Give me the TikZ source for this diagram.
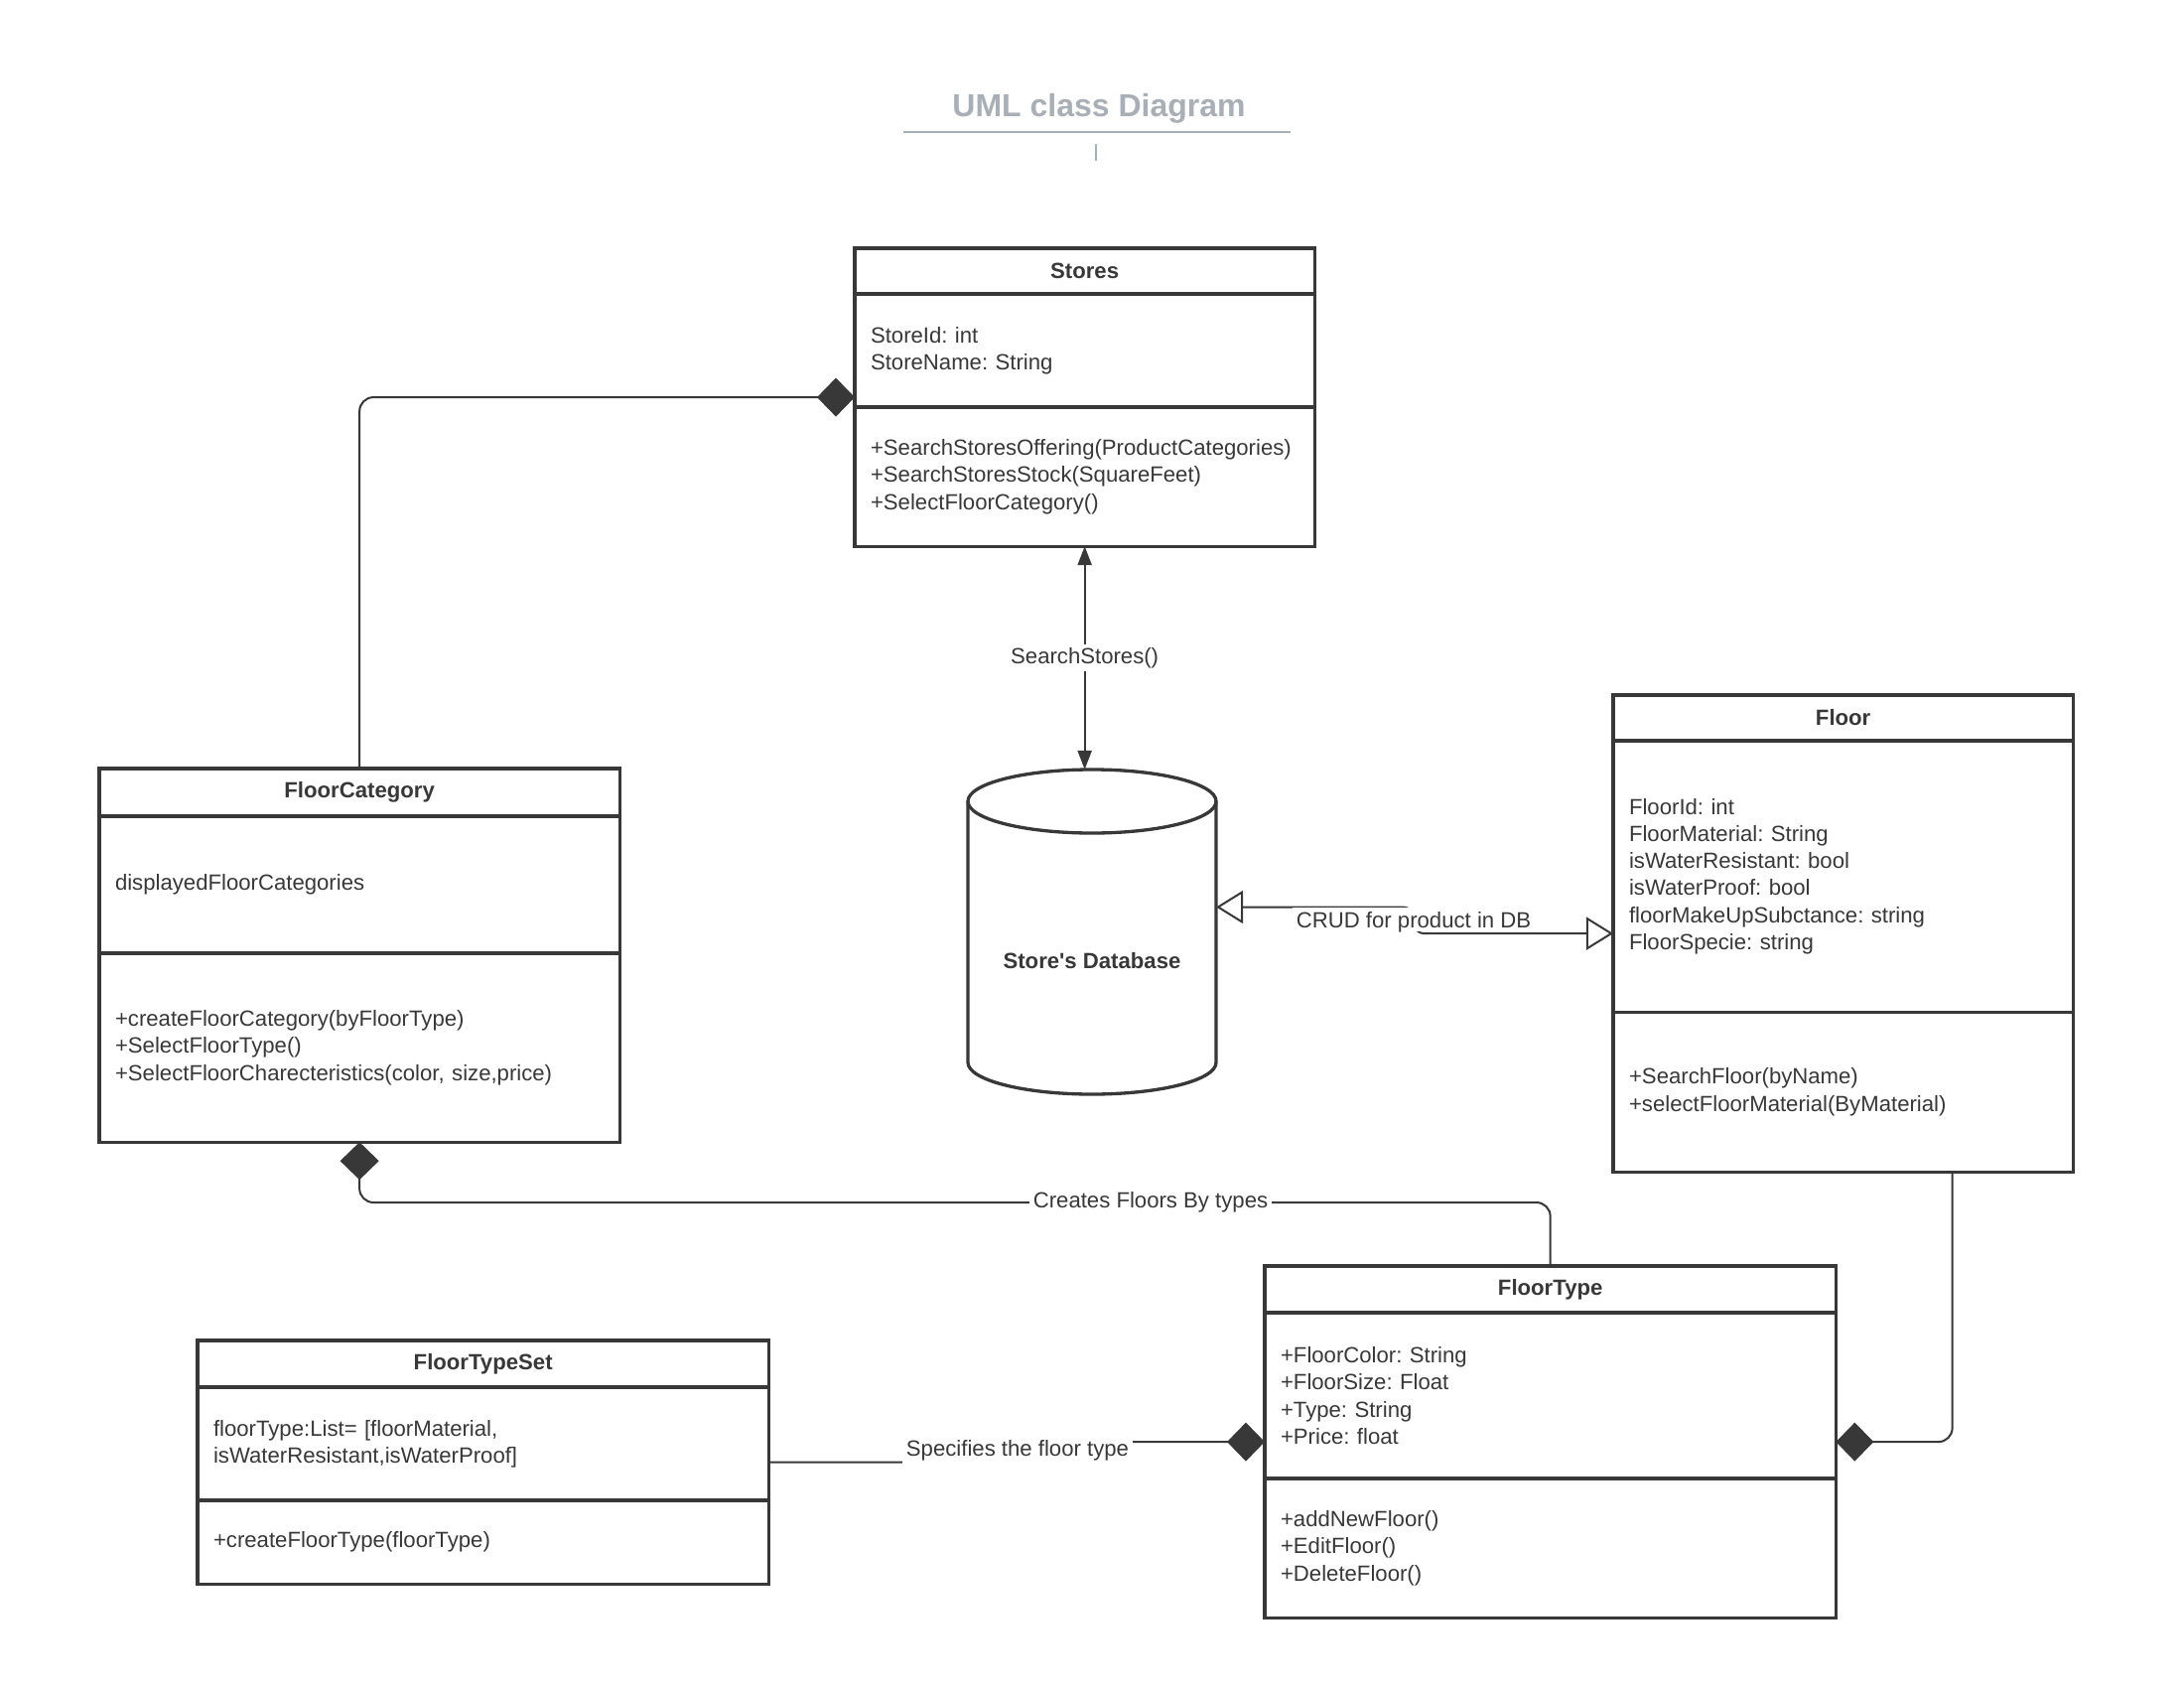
\documentclass[tikz,border=0pt]{standalone}
\usepackage{fontspec}
\newfontfamily\lsans{Liberation Sans}
\usetikzlibrary{arrows.meta,calc,fit}
\definecolor{ink}{HTML}{383838}
\definecolor{titlegray}{HTML}{A9AFB7}
\newcommand\umlfont{\lsans\frenchspacing\fontsize{6.3pt}{7.74pt}\selectfont}
\newcommand\umltitlefont{\lsans\bfseries\fontsize{9.1pt}{11pt}\selectfont}

\tikzset{
  diam/.tip={Diamond[length=10.8pt,width=11.1pt]},
  otri/.tip={Triangle[open,length=7.7pt,width=9.4pt]},
  stri/.tip={Triangle[length=5.4pt,width=4pt]},
  part/.style={draw=ink, line width=0.94pt, outer sep=0pt, inner xsep=0.16cm,
    inner ysep=0pt, anchor=north, text=ink, font=\umlfont, align=left},
  head/.style={part, align=center, font=\umlfont\bfseries},
  whole/.style={inner sep=0pt, outer sep=0pt},
  conn/.style={draw=ink, line width=0.57pt},
  lbl/.style={fill=white, text=ink, font=\umlfont, inner sep=1pt},
}

\begin{document}
\begin{tikzpicture}[x=0.01cm, y=-0.01cm]
\fill[white] (0,0) rectangle (2200,1700);
\useasboundingbox (0,0) rectangle (2200,1700);

% title block
\node[text=titlegray, font=\umltitlefont, inner sep=0pt] (title) at (1107,109) {UML class Diagram};
\draw[titlegray, line width=0.65pt] (910,133) -- (1300,133);
\draw[titlegray, line width=0.3pt] (1104,145) -- (1104,162);

% Stores
\node[head, anchor=north west, minimum width=4.63cm, minimum height=0.46cm] (stores-h) at (861,250) {Stores};
\node[part, text width=4.31cm, minimum height=1.14cm] (stores-a) at (stores-h.south) {StoreId: int\\StoreName: String};
\node[part, text width=4.31cm, minimum height=1.40cm] (stores-o) at (stores-a.south)
  {+SearchStoresOffering(ProductCategories)\\+SearchStoresStock(SquareFeet)\\+SelectFloorCategory()};
\node[whole, fit=(stores-h)(stores-o)] (stores) {};

% FloorCategory
\node[head, anchor=north west, minimum width=5.24cm, minimum height=0.48cm] (fcat-h) at (100,774) {FloorCategory};
\node[part, text width=4.92cm, minimum height=1.38cm] (fcat-a) at (fcat-h.south) {displayedFloorCategories};
\node[part, text width=4.92cm, minimum height=1.90cm] (fcat-o) at (fcat-a.south)
  {+createFloorCategory(byFloorType)\\+SelectFloorType()\\+SelectFloorCharecteristics(color, size,price)};
\node[whole, fit=(fcat-h)(fcat-o)] (fcat) {};

% Floor
\node[head, anchor=north west, minimum width=4.63cm, minimum height=0.46cm] (floor-h) at (1625,700) {Floor};
\node[part, text width=4.31cm, minimum height=2.73cm] (floor-a) at (floor-h.south)
  {FloorId: int\\FloorMaterial: String\\isWaterResistant: bool\\isWaterProof: bool\\floorMakeUpSubctance: string\\FloorSpecie: string};
\node[part, text width=4.31cm, minimum height=1.61cm] (floor-o) at (floor-a.south)
  {+SearchFloor(byName)\\+selectFloorMaterial(ByMaterial)};
\node[whole, fit=(floor-h)(floor-o)] (floor) {};

% FloorType
\node[head, anchor=north west, minimum width=5.75cm, minimum height=0.47cm] (ftype-h) at (1274,1275) {FloorType};
\node[part, text width=5.43cm, minimum height=1.67cm] (ftype-a) at (ftype-h.south)
  {+FloorColor: String\\+FloorSize: Float\\+Type: String\\+Price: float};
\node[part, text width=5.43cm, minimum height=1.40cm] (ftype-o) at (ftype-a.south)
  {+addNewFloor()\\+EditFloor()\\+DeleteFloor()};
\node[whole, fit=(ftype-h)(ftype-o)] (ftype) {};

% FloorTypeSet
\node[head, anchor=north west, minimum width=5.75cm, minimum height=0.47cm] (fts-h) at (199,1350) {FloorTypeSet};
\node[part, text width=5.43cm, minimum height=1.14cm] (fts-a) at (fts-h.south)
  {floorType:List= [floorMaterial,\\isWaterResistant,isWaterProof]};
\node[part, text width=5.43cm, minimum height=0.84cm] (fts-o) at (fts-a.south) {+createFloorType(floorType)};
\node[whole, fit=(fts-h)(fts-o)] (fts) {};

% database cylinder
\node[whole, minimum width=2.50cm, minimum height=3.27cm] (db) at (1100,938.5) {};
\draw[ink, line width=0.94pt] (1100,807) ellipse [x radius=125, y radius=32];
\draw[ink, line width=0.94pt] (975,807) -- (975,1070)
  arc[start angle=180, end angle=0, x radius=125, y radius=32] -- (1225,807);
\node[text=ink, font=\umlfont\bfseries] (db-name) at (1100,968) {Store's Database};

% connectors
\draw[conn, rounded corners=4pt, -diam] (fcat.north) |- (stores.west);

\draw[conn, stri-stri] (stores.south) -- (stores.south |- db.north)
  node[lbl, midway] (search-lbl) {SearchStores()};

\coordinate (crud-bend) at (1424,926);
\draw[conn, rounded corners=3pt, otri-otri] ($(db.east)+(0,-25)$) -| (crud-bend) |- (floor.west);
\node[lbl, text depth=0pt] (crud-lbl) at (crud-bend) {CRUD for product in DB};

\coordinate (creates-mid) at (1159,1211);
\draw[conn, rounded corners=4pt, diam-] (fcat.south) |- (creates-mid) -| (ftype.north);
\node[lbl] (creates-lbl) at (creates-mid) {Creates Floors By types};

\draw[conn, rounded corners=4pt, -diam] ($(floor.south)+(110,0)$) |- (ftype.east);

\coordinate (spec-bend) at (1025,1461);
\draw[conn, rounded corners=3pt, -diam] (fts.east) -| (spec-bend) |- (ftype.west);
\node[lbl] (spec-lbl) at (spec-bend) {Specifies the floor type};
\end{tikzpicture}
\end{document}
